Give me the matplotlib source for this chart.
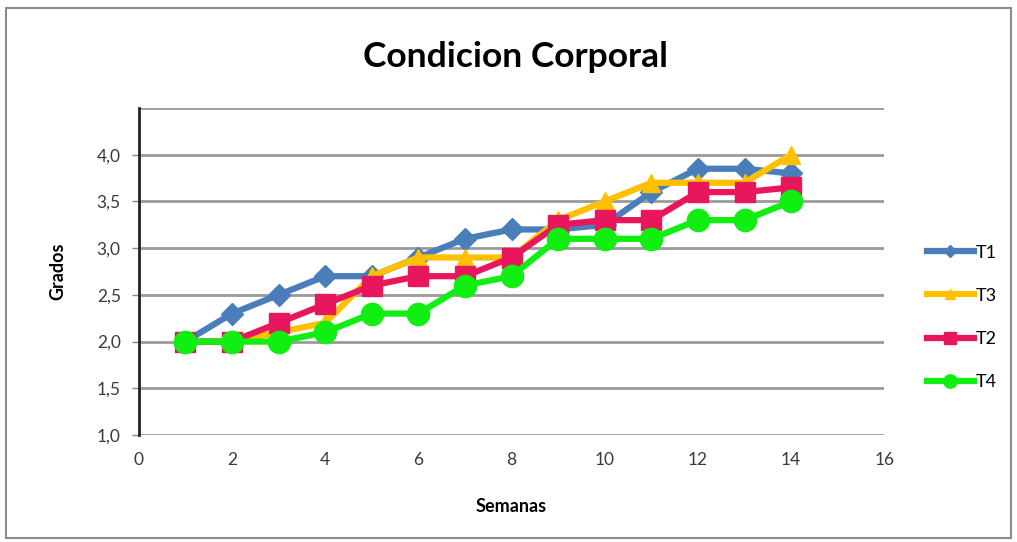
import matplotlib.pyplot as plt
from matplotlib.patches import Rectangle
from matplotlib.ticker import FuncFormatter

# semanas y grados de condicion corporal por tratamiento
semanas = [1, 2, 3, 4, 5, 6, 7, 8, 9, 10, 11, 12, 13, 14]
t1 = [2.0, 2.3, 2.5, 2.7, 2.7, 2.9, 3.1, 3.2, 3.2, 3.25, 3.6, 3.85, 3.85, 3.8]
t3 = [2.0, 2.0, 2.1, 2.2, 2.7, 2.9, 2.9, 2.9, 3.3, 3.5, 3.7, 3.7, 3.7, 4.0]
t2 = [2.0, 2.0, 2.2, 2.4, 2.6, 2.7, 2.7, 2.9, 3.25, 3.3, 3.3, 3.6, 3.6, 3.65]
t4 = [2.0, 2.0, 2.0, 2.1, 2.3, 2.3, 2.6, 2.7, 3.1, 3.1, 3.1, 3.3, 3.3, 3.5]

yticks = [1.0, 1.5, 2.0, 2.5, 3.0, 3.5, 4.0]
xticks = [0, 2, 4, 6, 8, 10, 12, 14, 16]

fuente = 'Lato'

fig = plt.figure(figsize=(10.17, 5.42), dpi=100)
fig.patches.append(Rectangle((0.006, 0.008), 0.988, 0.978, transform=fig.transFigure,
                             fill=False, edgecolor='#8c8c8c', linewidth=1.5))
ax = fig.add_axes([0.1365, 0.1974, 0.733, 0.6033])

# series en el mismo orden que la leyenda
ax.plot(semanas, t1, color='#4a7ebb', linewidth=4.5, marker='D', markersize=11, label='T1')
ax.plot(semanas, t3, color='#ffc000', linewidth=4.5, marker='^', markersize=13, label='T3')
ax.plot(semanas, t2, color='#e8175d', linewidth=4.5, marker='s', markersize=15, label='T2')
ax.plot(semanas, t4, color='#11ee11', linewidth=4.5, marker='o', markersize=16, label='T4')

ax.set_xlim(0, 16)
ax.set_ylim(1.0, 4.5)
ax.set_xticks(xticks)
ax.set_yticks(yticks)
ax.yaxis.set_major_formatter(FuncFormatter(lambda v, p: f'{v:.1f}'.replace('.', ',')))
for v in yticks + [4.5]:
    ax.axhline(v, color='#9a9a9a', linewidth=2, zorder=0)

for s in ['top', 'right', 'bottom']:
    ax.spines[s].set_visible(False)
ax.spines['left'].set_linewidth(2)
ax.spines['left'].set_color('#222222')
ax.tick_params(axis='x', length=0, pad=12, labelsize=12.5, labelcolor='#3a3a3a')
ax.tick_params(axis='y', length=5, width=1, color='#888888', pad=8, labelsize=12.5, labelcolor='#3a3a3a')
for lab in ax.get_xticklabels() + ax.get_yticklabels():
    lab.set_fontfamily(fuente)

ax.set_xlabel('Semanas', fontsize=13, fontweight='bold', family=fuente, labelpad=22)
ax.set_ylabel('Grados', fontsize=13, fontweight='bold', family=fuente, labelpad=22)
fig.text(0.507, 0.895, 'Condicion Corporal', ha='center', va='center',
         fontsize=25.5, fontweight='bold', family=fuente)

leg = ax.legend(loc='center left', bbox_to_anchor=(1.035, 0.36), frameon=False,
                handlelength=2.6, handletextpad=0.1, labelspacing=1.5, markerscale=0.6,
                prop={'family': fuente, 'size': 13})

fig.savefig('out.png', dpi=100)
